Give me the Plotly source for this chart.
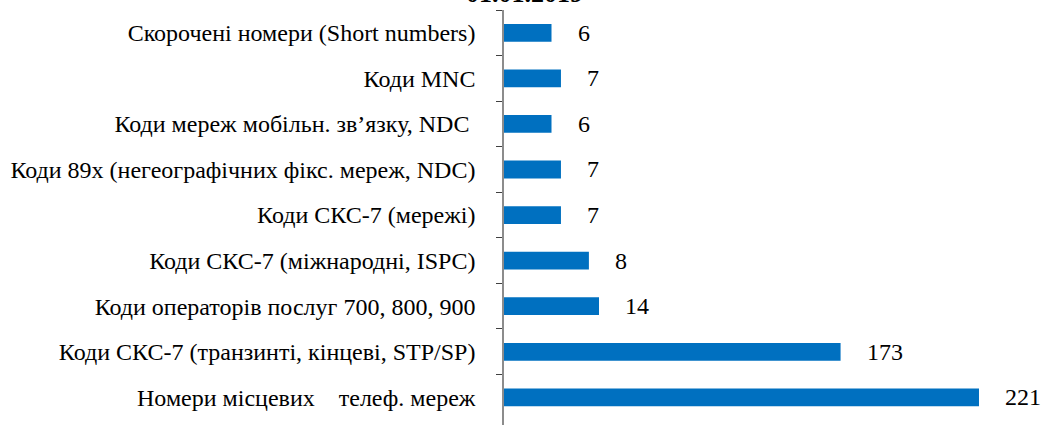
import plotly.graph_objects as go

# Categories, top to bottom as shown
categories = [
    "Скорочені номери (Short numbers)",
    "Коди MNC",
    "Коди мереж мобільн. зв’язку, NDC\u00a0",
    "Коди 89x (негеографічних фікс. мереж, NDC)",
    "Коди СКС-7 (мережі)",
    "Коди СКС-7 (міжнародні, ISPC)",
    "Коди операторів послуг 700, 800, 900",
    "Коди СКС-7 (транзинті, кінцеві, STP/SP)",
    "Номери місцевих\u00a0\u00a0\u00a0 телеф. мереж",
]
# Printed value labels
value_labels = ["6", "7", "6", "7", "7", "8", "14", "173", "221"]
# Drawn bar lengths (scale: longest bar = 221)
bar_lengths = [22.1, 26.5, 22.1, 26.5, 26.5, 39.5, 44.2, 156.6, 221]

title_text = "01.01.2019"

SERIF = "Liberation Serif"

fig = go.Figure(
    go.Bar(
        x=bar_lengths,
        y=categories,
        orientation="h",
        marker=dict(color="#0070C0", line=dict(width=0)),
        hoverinfo="skip",
    )
)

annotations = [
    dict(
        x=v, y=c, xref="x", yref="y", text=t, showarrow=False,
        xanchor="left", yanchor="middle", xshift=24,
        font=dict(family=SERIF, size=24, color="black"),
    )
    for v, c, t in zip(bar_lengths, categories, value_labels)
]
annotations.append(
    dict(
        x=(524 - 504) / 550, y=1, xref="paper", yref="paper",
        text="<b>" + title_text + "</b>", showarrow=False,
        xanchor="center", yanchor="bottom",
        font=dict(family=SERIF, size=26, color="black"),
    )
)

fig.update_layout(
    width=1054, height=425,
    margin=dict(l=504, r=0, t=10, b=0, pad=0),
    paper_bgcolor="white", plot_bgcolor="white",
    bargap=0.61,
    showlegend=False,
    annotations=annotations,
    xaxis=dict(
        range=[0, 255.9], visible=False, showgrid=False, zeroline=False,
    ),
    yaxis=dict(
        categoryorder="array", categoryarray=categories,
        range=[8.607, -0.5], automargin=False,
        showline=True, linecolor="#8c8c8c", linewidth=1.5,
        ticks="outside", tickson="boundaries", ticklen=6, tickcolor="#404040", tickwidth=1.2,
        ticklabelstandoff=22,
        showgrid=False, zeroline=False,
        tickfont=dict(family=SERIF, size=24, color="black"),
    ),
)

fig.write_html(
    "out.html",
    config={"displayModeBar": False},
    post_script="document.body.style.margin='0';document.body.style.overflow='hidden';",
)
